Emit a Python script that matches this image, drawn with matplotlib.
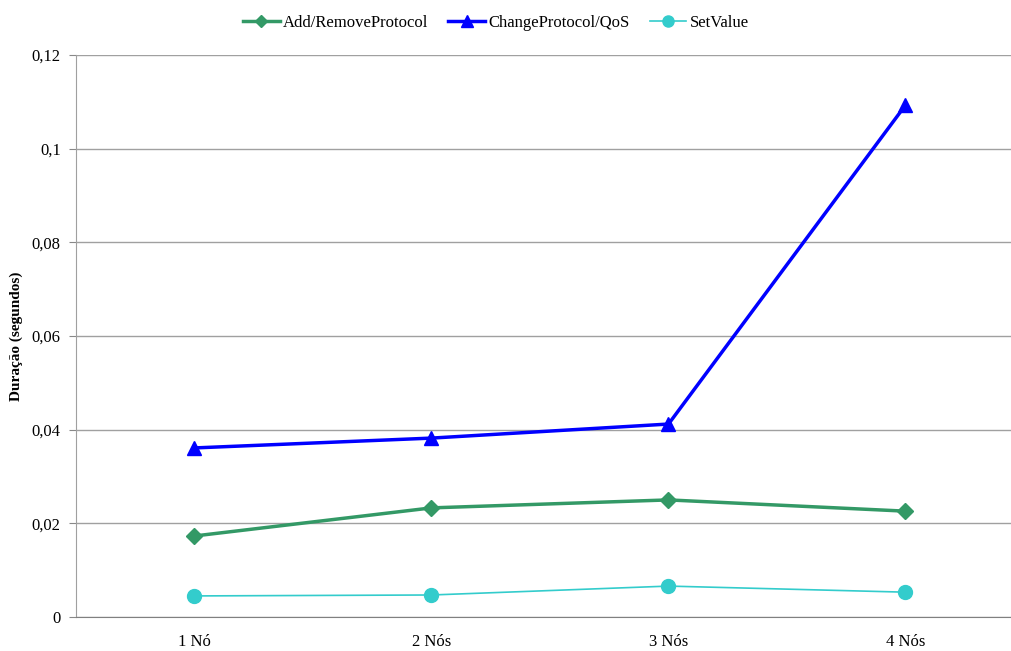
import matplotlib
matplotlib.use("Agg")
import matplotlib.pyplot as plt
from matplotlib.ticker import FuncFormatter

categories = ['1 Nó', '2 Nós', '3 Nós', '4 Nós']
add_remove = [0.0173, 0.0233, 0.0250, 0.0226]
change_qos = [0.0361, 0.0382, 0.0412, 0.1093]
set_value = [0.0045, 0.0047, 0.0066, 0.0053]

plt.rcParams['font.family'] = ['Liberation Serif', 'DejaVu Serif']
plt.rcParams['font.size'] = 12

fig = plt.figure(figsize=(10.12, 6.51), dpi=100)
ax = fig.add_axes([76 / 1012, 34 / 651, 948 / 1012, 562 / 651])

x = list(range(len(categories)))
ax.plot(x, add_remove, color='#339966', lw=2.5, marker='D', ms=8,
        label='Add/RemoveProtocol')
ax.plot(x, change_qos, color='#0000FF', lw=2.5, marker='^', ms=10,
        label='ChangeProtocol/QoS')
ax.plot(x, set_value, color='#33CCCC', lw=1.2, marker='o', ms=10,
        label='SetValue')

ax.set_xlim(-0.5, 3.5)
ax.set_ylim(0, 0.12)
ax.set_yticks([0, 0.02, 0.04, 0.06, 0.08, 0.1, 0.12])
ax.yaxis.set_major_formatter(FuncFormatter(
    lambda v, p: '0' if v == 0 else ('%g' % round(v, 3)).replace('.', ',')))
ax.set_xticks(x)
ax.set_xticklabels(categories)
ax.tick_params(axis='x', length=0, pad=12)
ax.tick_params(axis='y', length=5, color='#888888', pad=6)
ax.grid(axis='y', color='#a0a0a0', lw=1)
ax.set_axisbelow(True)
for s in ['top', 'right']:
    ax.spines[s].set_visible(False)
ax.spines['left'].set_color('#a0a0a0')
ax.spines['bottom'].set_color('#808080')
ax.spines['bottom'].set_zorder(3)

ax.set_ylabel('Duração (segundos)', fontweight='bold', fontsize=11, labelpad=6)

fig.legend(loc='upper center', bbox_to_anchor=(0.49, 1.0), ncol=3,
           frameon=False, handlelength=2.2, handletextpad=0.2,
           columnspacing=1.2, markerscale=0.8)

fig.savefig('out.png', dpi=100)
